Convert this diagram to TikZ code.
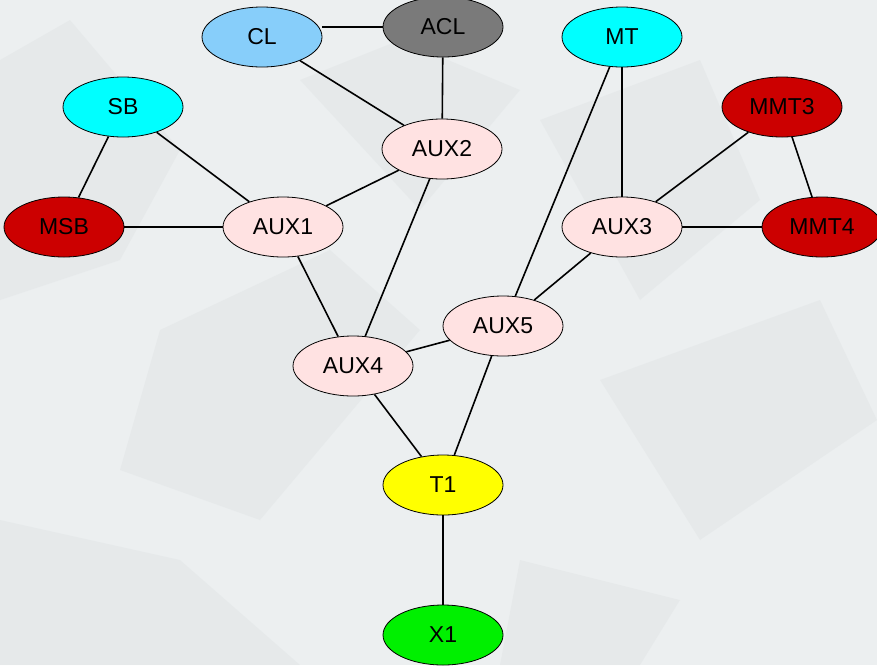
\documentclass[tikz,border=0pt]{standalone}
\usepackage{fontspec}
\setmainfont{Liberation Sans}
\usetikzlibrary{shapes.geometric}
\definecolor{paper}{RGB}{236,239,240}
\definecolor{crease}{RGB}{200,205,207}
\definecolor{skyfill}{RGB}{135,206,250}
\definecolor{greyfill}{RGB}{122,122,122}
\definecolor{cyanfill}{RGB}{0,255,255}
\definecolor{redfill}{RGB}{204,0,0}
\definecolor{pinkfill}{RGB}{255,226,226}
\definecolor{yellowfill}{RGB}{255,255,0}
\definecolor{greenfill}{RGB}{0,240,0}
\tikzset{
  vert/.style={ellipse, draw=black, line width=0.8pt, minimum width=120pt,
    minimum height=60pt, inner sep=0pt, font=\fontsize{23}{26}\selectfont},
  link/.style={draw=black, line width=1.6pt},
  fold/.style={fill=crease, opacity=0.16},
}
\begin{document}
\begin{tikzpicture}[x=1pt,y=-1pt]
  % crumpled paper background
  \fill[paper] (0,0) rectangle (877,665);
  \useasboundingbox (0,0) rectangle (877,665);
  \fill[fold] (0,60) -- (70,20) -- (180,150) -- (120,260) -- (0,300) -- cycle;
  \fill[fold] (160,330) -- (330,250) -- (420,330) -- (260,520) -- (120,470) -- cycle;
  \fill[fold] (540,120) -- (700,60) -- (760,200) -- (640,300) -- cycle;
  \fill[fold] (600,380) -- (820,300) -- (877,420) -- (700,540) -- cycle;
  \fill[fold] (0,520) -- (180,560) -- (300,665) -- (0,665) -- cycle;
  \fill[fold] (300,80) -- (400,40) -- (520,90) -- (420,210) -- cycle;
  \fill[fold] (520,560) -- (680,600) -- (640,665) -- (500,665) -- cycle;

  % vertices
  \node[vert, fill=skyfill]    (CL)   at (262,37)  {CL};
  \node[vert, fill=greyfill]   (ACL)  at (443,27)  {ACL};
  \node[vert, fill=cyanfill]   (MT)   at (622,37)  {MT};
  \node[vert, fill=cyanfill]   (SB)   at (123,107) {SB};
  \node[vert, fill=redfill]    (MMT3) at (782,107) {MMT3};
  \node[vert, fill=pinkfill]   (AUX2) at (442,149) {AUX2};
  \node[vert, fill=redfill]    (MSB)  at (64,227)  {MSB};
  \node[vert, fill=pinkfill]   (AUX1) at (283,227) {AUX1};
  \node[vert, fill=pinkfill]   (AUX3) at (622,227) {AUX3};
  \node[vert, fill=redfill]    (MMT4) at (822,227) {MMT4};
  \node[vert, fill=pinkfill]   (AUX5) at (503,326) {AUX5};
  \node[vert, fill=pinkfill]   (AUX4) at (353,366) {AUX4};
  \node[vert, fill=yellowfill] (T1)   at (443,485) {T1};
  \node[vert, fill=greenfill]  (X1)   at (443,635) {X1};

  % edges
  \path[link] (ACL.west) -- (ACL.west -| CL.east);
  \path[link] (CL) -- (AUX2);
  \path[link] (ACL) -- (AUX2);
  \path[link] (SB) -- (MSB);
  \path[link] (SB) -- (AUX1);
  \path[link] (MSB) -- (AUX1);
  \path[link] (AUX1) -- (AUX2);
  \path[link] (AUX1) -- (AUX4);
  \path[link] (AUX2) -- (AUX4);
  \path[link] (MT) -- (AUX3);
  \path[link] (MT) -- (AUX5);
  \path[link] (MMT3) -- (AUX3);
  \path[link] (MMT3) -- (MMT4);
  \path[link] (AUX3) -- (MMT4);
  \path[link] (AUX3) -- (AUX5);
  \path[link] (AUX4) -- (AUX5);
  \path[link] (AUX4) -- (T1);
  \path[link] (AUX5) -- (T1);
  \path[link] (T1) -- (X1);
\end{tikzpicture}
\end{document}
